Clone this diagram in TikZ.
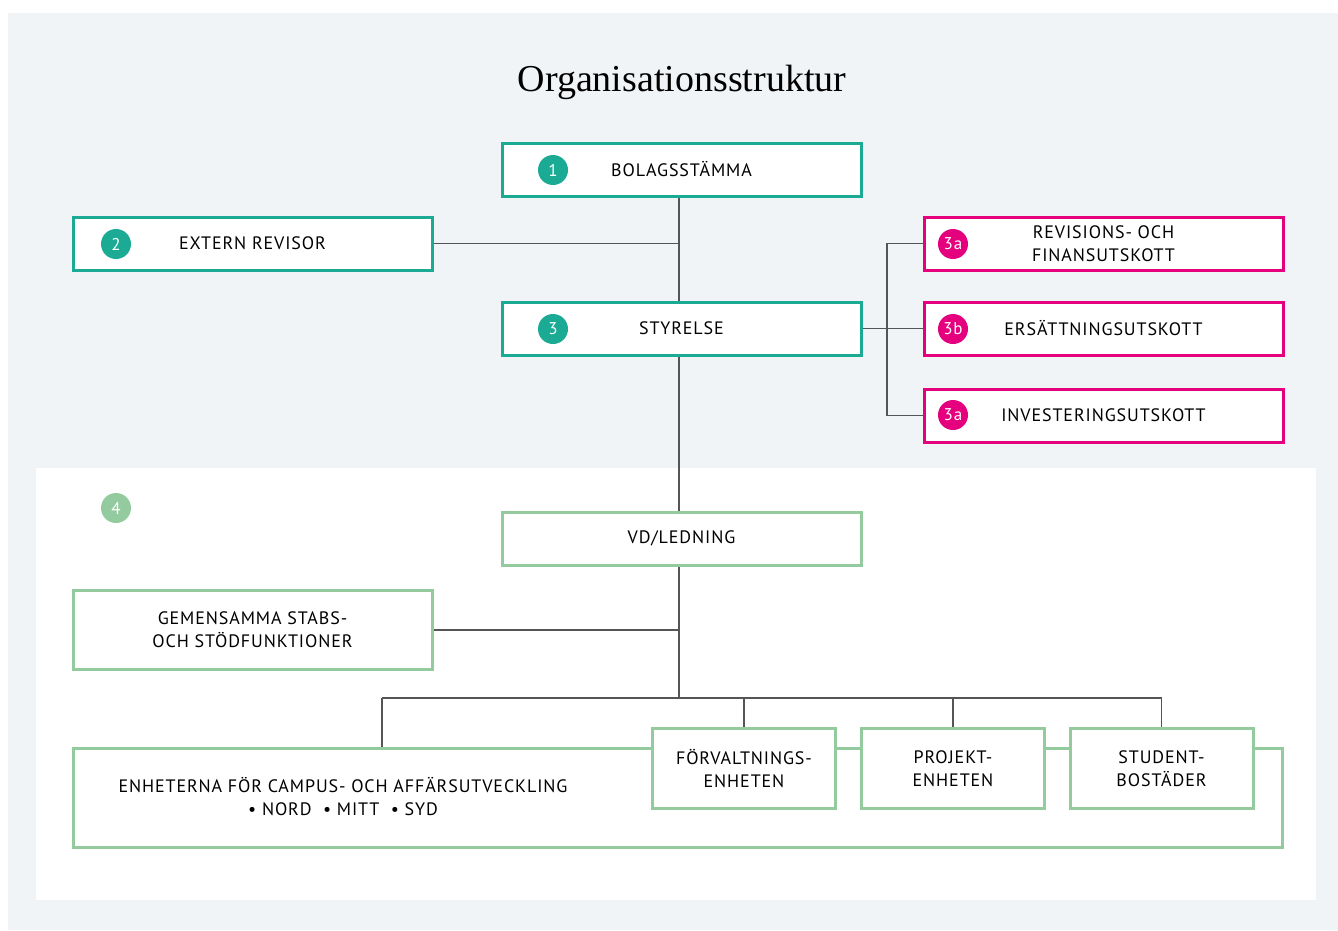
\documentclass[tikz,border=0pt]{standalone}
\usepackage{fontspec}
\setmainfont{Liberation Serif}
\newfontfamily\orgfont[LetterSpace=5]{PT Sans}
\usetikzlibrary{positioning}
\definecolor{orgbg}{HTML}{F1F4F7}
\definecolor{orgteal}{HTML}{1BAA93}
\definecolor{orgpink}{HTML}{E5007E}
\definecolor{orggreen}{HTML}{93CB9E}
\definecolor{orgline}{HTML}{555555}

\begin{document}
\begin{tikzpicture}[x=1pt,y=-1pt,node distance=159pt,on grid,
   box/.style={draw,line width=3pt,fill=white,minimum width=359pt,minimum height=53pt,inner sep=0pt,align=center,text=black,font=\orgfont\fontsize{18}{23}\selectfont},
   top/.style={box,draw=orgteal},
   cmt/.style={box,draw=orgpink},
   unit/.style={box,draw=orggreen},
   small/.style={unit,minimum width=183pt,minimum height=80pt},
   badge/.style={circle,fill=#1,text=white,minimum size=30pt,inner sep=0pt,font=\orgfont\fontsize{17}{17}\selectfont},
   link/.style={draw=orgline,line width=1.4pt}]
   \useasboundingbox (0,0) rectangle (1338,930);
   \fill[orgbg] (8,13) rectangle (1338,930);
   \fill[white] (36,468) rectangle (1316,900);

   \node (title) at (682,82) {\fontsize{38}{38}\selectfont Organisationsstruktur};

   \node[top] (bolag) at (681.5,169.5) {BOLAGSSTÄMMA};
   \node[top] (styrelse) [below=of bolag] {STYRELSE};
   \node[top] (revisor) at (252.5,243.5) {EXTERN REVISOR};
   \node[cmt] (revision) at (1103.5,243.5) {REVISIONS- OCH\\FINANSUTSKOTT};
   \node[cmt] (ersatt) at (1103.5,328.5) {ERSÄTTNINGSUTSKOTT};
   \node[cmt] (invest) at (1103.5,415.5) {INVESTERINGSUTSKOTT};

   \node[badge=orgteal] (b1) at (553,170) {1};
   \node[badge=orgteal] (b2) at (116,244) {2};
   \node[badge=orgteal] (b3) at (553,329) {3};
   \node[badge=orgpink] (b3a) at (953,244) {3a};
   \node[badge=orgpink] (b3b) at (953,329) {3b};
   \node[badge=orgpink] (b3c) at (953,415) {3a};
   \node[badge=orggreen] (b4) at (116,508) {4};

   \node[unit] (vd) at (681.5,538.5) {VD/LEDNING};
   \node[unit,minimum height=79pt] (stab) at (252.5,630) {GEMENSAMMA STABS-\\OCH STÖDFUNKTIONER};
   \node[unit,minimum width=1209pt,minimum height=99pt] (campus) at (678,798) {};
   \node[align=center,text=black,font=\orgfont\fontsize{18}{23}\selectfont] (campustext) at (343,797)
      {ENHETERNA FÖR CAMPUS- OCH AFFÄRSUTVECKLING\\• NORD\ \ • MITT\ \ • SYD};
   \node[small] (forv) at (744,768.5) {FÖRVALTNINGS-\\ENHETEN};
   \node[small] (proj) at (953,768.5) {PROJEKT-\\ENHETEN};
   \node[small] (student) at (1161.5,768.5) {STUDENT-\\BOSTÄDER};

   \coordinate (fork) at (887,328.5);
   \coordinate (busL) at (382,698);
   \coordinate (busR) at (1161.5,698);

   \path[link]
   (bolag.south -| 679,0) -- (styrelse.north -| 679,0)
   (revisor.east) -- (revisor.east -| 679,0)
   (styrelse.east) -- (ersatt.west)
   (revision.west) -| (fork) |- (invest.west)
   (styrelse.south -| 679,0) -- (vd.north -| 679,0)
   (vd.south -| 679,0) -- (busL -| 679,0)
   (stab.east) -- (stab.east -| 679,0)
   (busL) -- (busR)
   (busL) -- (busL |- campus.north)
   (forv.north |- busL) -- (forv.north)
   (proj.north |- busL) -- (proj.north)
   (busR) -- (student.north);
\end{tikzpicture}
\end{document}
